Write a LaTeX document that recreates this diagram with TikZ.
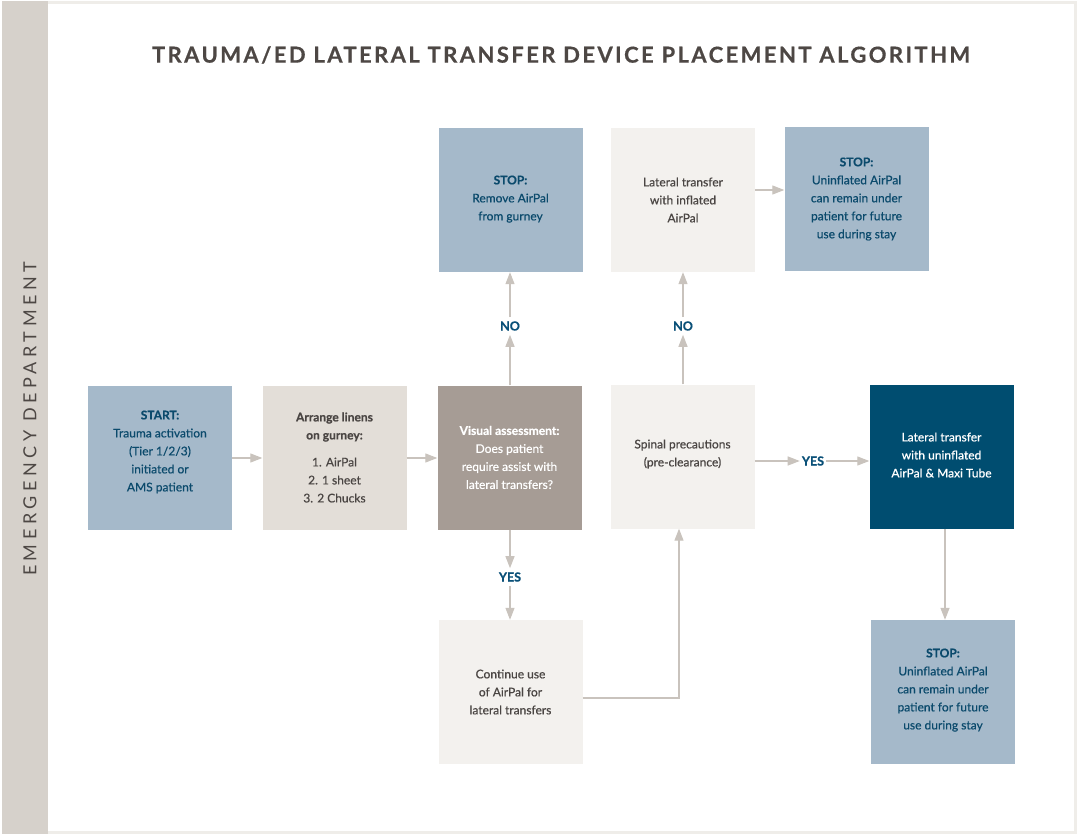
\documentclass[tikz,border=0pt]{standalone}
\usepackage{fontspec}
\setmainfont{Lato}
\usetikzlibrary{arrows.meta}
\definecolor{lblue}{HTML}{A5B9CA}
\definecolor{dblue}{HTML}{0B4A6C}
\definecolor{labblue}{HTML}{0A5078}
\definecolor{beige}{HTML}{E3DED8}
\definecolor{taupe}{HTML}{A69C95}
\definecolor{offw}{HTML}{F3F1EE}
\definecolor{navy}{HTML}{004D70}
\definecolor{linec}{HTML}{C9C3BD}
\definecolor{sidec}{HTML}{D6D1CB}
\definecolor{titlec}{HTML}{4D4744}
\definecolor{framec}{HTML}{EFEDE9}
\definecolor{bodyc}{HTML}{4A4543}
\begin{document}
\begin{tikzpicture}[x=1pt,y=-1pt,
  box/.style={minimum width=144pt, minimum height=144pt, inner sep=0pt, align=center,
    font=\fontsize{12}{18}\selectfont\addfontfeatures{FakeBold=0.6}},
  bluebox/.style={box, fill=lblue, text=dblue},
  lightbox/.style={box, fill=offw, text=bodyc},
  arr/.style={draw=linec, line width=1.2pt, -{Triangle[length=12pt,width=9pt]}},
  lab/.style={text=labblue, font=\fontsize{12.5}{14}\bfseries\selectfont\addfontfeatures{FakeBold=0.5}, inner xsep=2pt, inner ysep=4pt}]
\useasboundingbox (0,0) rectangle (1079,837);
\fill[white] (0,0) rectangle (1079,837);
\draw[framec, line width=3pt] (3,3) rectangle (1075,832);
\fill[sidec] (1.5,1.5) rectangle (48,833.5);
\node[rotate=90, text=titlec, font=\fontsize{18}{20}\selectfont\addfontfeatures{LetterSpace=25}] (side) at (30,419) {EMERGENCY DEPARTMENT};
\node[text=titlec, font=\fontsize{22}{24}\bfseries\selectfont\addfontfeatures{LetterSpace=11,FakeBold=0.6}] (title) at (561,55) {TRAUMA/ED LATERAL TRANSFER DEVICE PLACEMENT ALGORITHM};

\node[bluebox] (start) at (160,458) {\textbf{START:}\\Trauma activation\\(Tier 1/2/3)\\initiated or\\AMS patient\\[-4pt]};
\node[box, fill=beige, text=bodyc] (arrange) at (334.5,457.5) {\textbf{Arrange linens}\\\textbf{on gurney:}\\[9pt]1. AirPal\\2. 1 sheet\\3. 2 Chucks};
\node[box, fill=taupe, text=white] (visual) at (509.5,457.5) {\textbf{Visual assessment:}\\Does patient\\require assist with\\lateral transfers?};
\node[lightbox] (spinal) at (682.5,456.5) {Spinal precautions\\(pre-clearance)\\[-11pt]};
\node[box, fill=navy, text=white] (latu) at (941.5,457) {Lateral transfer\\with uninflated\\AirPal \& Maxi Tube\\[-14pt]};
\node[bluebox] (stopbr) at (943,692) {\textbf{STOP:}\\Uninflated AirPal\\can remain under\\patient for future\\use during stay\\[-12pt]};
\node[lightbox] (cont) at (510.5,692) {Continue use\\of AirPal for\\lateral transfers};
\node[bluebox] (stoprm) at (510.5,200) {\textbf{STOP:}\\Remove AirPal\\from gurney\\[-14pt]};
\node[lightbox] (latinf) at (683,200) {Lateral transfer\\with inflated\\AirPal};
\node[bluebox] (stoptr) at (856.5,199) {\textbf{STOP:}\\Uninflated AirPal\\can remain under\\patient for future\\use during stay};

\node[lab] (no1) at (510,326) {NO};
\node[lab] (no2) at (683,326) {NO};
\node[lab] (yes1) at (510,577) {YES};
\node[lab] (yes2) at (813,461) {YES};

\draw[arr] (start.east |- 0,458) -- (arrange.west |- 0,458);
\draw[arr] (arrange.east |- 0,458) -- (visual.west |- 0,458);
\draw[arr] (visual.north -| no1) -- (no1.south);
\draw[arr] (no1.north) -- (stoprm.south -| no1);
\draw[arr] (spinal.north -| no2) -- (no2.south);
\draw[arr] (no2.north) -- (latinf.south -| no2);
\draw[arr] (visual.south -| yes1) -- (yes1.north);
\draw[arr] (yes1.south) -- (cont.north -| yes1);
\draw[arr] (spinal.east |- yes2) -- (yes2.west);
\draw[arr] (yes2.east) -- (latu.west |- yes2);
\draw[arr] (latinf.east |- 0,190) -- (stoptr.west |- 0,190);
\coordinate (bend) at (679,698);
\draw[arr] (cont.east |- bend) -- (bend) -- (bend |- spinal.south);
\draw[arr] (latu.south -| 945,0) -- (stopbr.north -| 945,0);
\end{tikzpicture}
\end{document}
